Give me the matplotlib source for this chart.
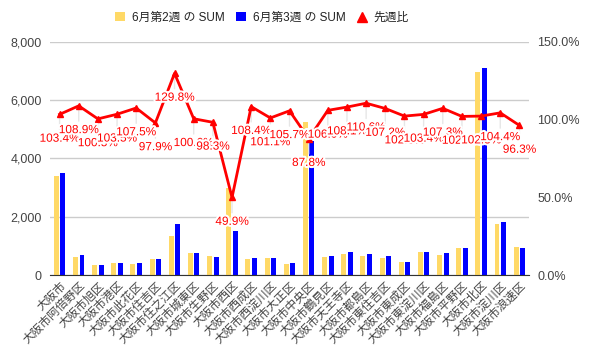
import matplotlib
matplotlib.use("Agg")
import matplotlib.pyplot as plt
import matplotlib.patheffects as pe
from matplotlib.patches import Patch
from matplotlib.lines import Line2D
from matplotlib.ticker import FuncFormatter, FixedLocator

plt.rcParams['font.family'] = ['Liberation Sans', 'Noto Sans CJK JP', 'DejaVu Sans']

categories = ['大阪市', '大阪市阿倍野区', '大阪市旭区', '大阪市港区', '大阪市此花区',
              '大阪市住吉区', '大阪市住之江区', '大阪市城東区', '大阪市生野区', '大阪市西区',
              '大阪市西成区', '大阪市西淀川区', '大阪市大正区', '大阪市中央区', '大阪市鶴見区',
              '大阪市天王寺区', '大阪市都島区', '大阪市東住吉区', '大阪市東成区', '大阪市東淀川区',
              '大阪市福島区', '大阪市平野区', '大阪市北区', '大阪市淀川区', '大阪市浪速区']
week2 = [3390, 630, 340, 400, 380, 560, 1340, 750, 640, 3000, 540, 575, 385, 5250, 605,
         715, 640, 600, 445, 780, 700, 920, 6960, 1735, 960]
week3 = [3505, 686, 342, 414, 408, 548, 1739, 755, 629, 1497, 585, 581, 407, 4610, 641,
         773, 708, 643, 455, 806, 751, 940, 7110, 1811, 925]
ratio = [103.4, 108.9, 100.5, 103.5, 107.5, 97.9, 129.8, 100.6, 98.3, 49.9, 108.4, 101.1,
         105.7, 87.8, 106.0, 108.1, 110.6, 107.2, 102.3, 103.4, 107.3, 102.1, 102.3, 104.4, 96.3]

series_names = ['6月第2週 の SUM', '6月第3週 の SUM', '先週比']
left_ticks = [0, 2000, 4000, 6000, 8000]
right_ticks = [0, 50, 100, 150]

c_yellow = '#FFD966'
c_blue = '#0000FF'
c_red = '#FF0000'
txt = '#444444'

fig = plt.figure(figsize=(5.89, 3.60), dpi=100)
ax = fig.add_axes([50/589, 1-275/360, 479/589, 233/360])
ax2 = ax.twinx()

x = list(range(len(categories)))
bw = 0.26
off = 0.17
ax.bar([i - off for i in x], week2, width=bw, color=c_yellow, zorder=2)
ax.bar([i + off for i in x], week3, width=bw, color=c_blue, zorder=2)

ax.set_xlim(-0.5, len(categories) - 0.5)
ax.set_ylim(0, 8000)
ax.yaxis.set_major_locator(FixedLocator(left_ticks))
ax.yaxis.set_major_formatter(FuncFormatter(lambda v, p: f'{int(v):,}'))
ax.grid(axis='y', color='#cccccc', lw=1, zorder=0)
ax.set_axisbelow(True)
for s in ['top', 'right', 'left']:
    ax.spines[s].set_visible(False)
ax.spines['bottom'].set_color('#333333')
ax.spines['bottom'].set_zorder(3)
ax.tick_params(axis='y', length=0, labelsize=9, labelcolor=txt, pad=6)
ax.tick_params(axis='x', length=0, pad=3)
ax.set_xticks(x)
ax.set_xticklabels(categories, rotation=45, ha='right', rotation_mode='anchor',
                   fontsize=8.5, color=txt, family=['Noto Sans CJK JP'])

ax2.set_ylim(0, 150)
ax2.yaxis.set_major_locator(FixedLocator(right_ticks))
ax2.yaxis.set_major_formatter(FuncFormatter(lambda v, p: f'{v:.1f}%'))
for s in ['top', 'right', 'left', 'bottom']:
    ax2.spines[s].set_visible(False)
ax2.tick_params(axis='y', length=0, labelsize=9, labelcolor=txt, pad=6)

ax2.plot(x, ratio, color=c_red, lw=2, marker='^', markersize=5, zorder=4)
for i, r in zip(x, ratio):
    ax2.annotate('', xy=(i, r), xytext=(0, -11), textcoords='offset points',
                 arrowprops=dict(arrowstyle='-', color='#e6e6e6', lw=1, shrinkA=0, shrinkB=3),
                 zorder=3)
for i, r in zip(x, ratio):
    ax2.annotate(f'{r:.1f}%', xy=(i, r), xytext=(0, -17.5), textcoords='offset points',
                 ha='center', va='center', fontsize=8.5, color=c_red, zorder=5,
                 path_effects=[pe.withStroke(linewidth=3, foreground='white')])

handles = [Patch(facecolor=c_yellow, edgecolor='none'),
           Patch(facecolor=c_blue, edgecolor='none'),
           Line2D([], [], color=c_red, marker='^', linestyle='None', markersize=7)]
fig.legend(handles, series_names, loc='center', bbox_to_anchor=(0.445, 0.95), ncol=3,
           frameon=False, fontsize=8.5, handlelength=0.8, handleheight=0.8,
           handletextpad=0.6, columnspacing=1.0, labelcolor='#222222')

fig.savefig('out.png', dpi=100)
